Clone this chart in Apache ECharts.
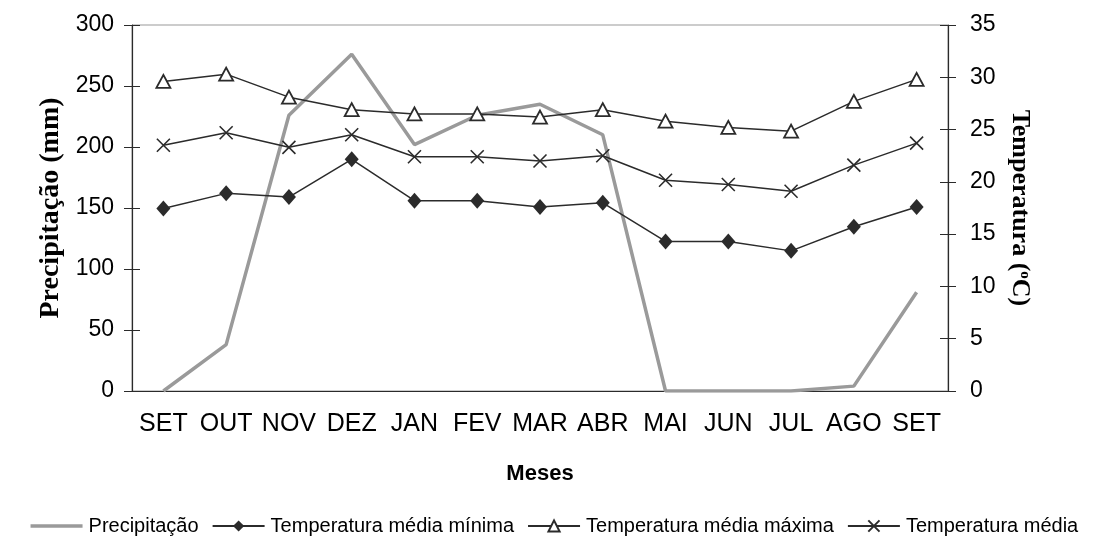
<!DOCTYPE html>
<html>
<head>
<meta charset="utf-8">
<script src="https://cdn.jsdelivr.net/npm/echarts@6/dist/echarts.min.js"></script>
<style>
  html, body { margin: 0; padding: 0; background: #fff; }
  #main { width: 1107px; height: 540px; }
</style>
</head>
<body>
<div id="main"></div>
<script>
var months = ["SET", "OUT", "NOV", "DEZ", "JAN", "FEV", "MAR", "ABR", "MAI", "JUN", "JUL", "AGO", "SET"];
var precipitacao = [0, 38, 226, 276, 202, 226, 235, 210, 0, 0, 0, 4, 81];
var tempMinima = [17.45, 18.9, 18.55, 22.15, 18.2, 18.2, 17.6, 18.0, 14.3, 14.3, 13.4, 15.7, 17.6];
var tempMaxima = [29.6, 30.3, 28.1, 26.9, 26.5, 26.5, 26.2, 26.9, 25.8, 25.2, 24.85, 27.7, 29.8];
var tempMedia = [23.5, 24.7, 23.3, 24.5, 22.4, 22.4, 22.0, 22.5, 20.15, 19.75, 19.1, 21.6, 23.7];

var dark = "#2b2b2b";
var gray = "#9a9a9a";
var sans = "Liberation Sans, Arial, sans-serif";
var serif = "Liberation Serif, Times New Roman, serif";
var crossPath = "path://M0,0L10,10M10,0L0,10";

var chart = echarts.init(document.getElementById("main"));

function innerAxis(pos, max, interval) {
  // second copy of an axis, only to draw the inner half of crossing ticks
  return {
    type: "value", position: pos, min: 0, max: max, interval: interval,
    axisLine: { show: false },
    axisTick: { show: true, inside: true, length: 8, lineStyle: { color: dark } },
    axisLabel: { show: false },
    splitLine: { show: false }
  };
}

chart.setOption({
  animation: false,
  grid: { left: 132, right: 159, top: 25, bottom: 149, show: true, borderColor: "#999", borderWidth: 1 },
  legend: {
    bottom: -1, left: "center", itemWidth: 52, itemHeight: 14, itemGap: 13,
    textStyle: { fontFamily: sans, fontSize: 20, color: "#000", padding: [0, 0, 0, 1] },
    data: [
      { name: "Precipitação", itemStyle: { opacity: 0 }, lineStyle: { color: gray, width: 3.5 } },
      "Temperatura média mínima", "Temperatura média máxima", "Temperatura média"
    ]
  },
  xAxis: {
    type: "category", data: months, boundaryGap: true,
    name: "Meses", nameLocation: "middle", nameGap: 72,
    nameTextStyle: { fontFamily: sans, fontSize: 22, fontWeight: "bold", color: "#000" },
    axisLine: { lineStyle: { color: dark, width: 1.2 } },
    axisTick: { inside: true, length: 8, lineStyle: { color: dark } },
    axisLabel: { fontFamily: sans, fontSize: 25, color: "#000", margin: 21, interval: 0 }
  },
  yAxis: [
    {
      type: "value", position: "left", min: 0, max: 300, interval: 50,
      name: "Precipitação (mm)", nameLocation: "middle", nameGap: 57,
      nameTextStyle: { fontFamily: serif, fontSize: 28, fontWeight: "bold", color: "#000" },
      axisLine: { show: true, lineStyle: { color: dark, width: 1.2 } },
      axisTick: { show: true, length: 8, lineStyle: { color: dark } },
      axisLabel: { fontFamily: sans, fontSize: 23, color: "#000", margin: 18 },
      splitLine: { show: false }
    },
    {
      type: "value", position: "right", min: 0, max: 35, interval: 5,
      name: "Temperatura ({sup|o}C)", nameLocation: "middle", nameGap: 56, nameRotate: -90,
      nameTextStyle: {
        fontFamily: serif, fontSize: 26, fontWeight: "bold", color: "#000",
        rich: { sup: { fontFamily: serif, fontSize: 15, fontWeight: "bold", verticalAlign: "top", padding: [0, 0, 10, 0] } }
      },
      axisLine: { show: true, lineStyle: { color: dark, width: 1.2 } },
      axisTick: { show: true, length: 8, lineStyle: { color: dark } },
      axisLabel: { fontFamily: sans, fontSize: 23, color: "#000", margin: 22 },
      splitLine: { show: false }
    },
    innerAxis("left", 300, 50),
    innerAxis("right", 35, 5)
  ],
  series: [
    {
      name: "Precipitação", type: "line", yAxisIndex: 0, data: precipitacao,
      symbol: "none", lineStyle: { color: gray, width: 3.5 }, itemStyle: { color: gray }
    },
    {
      name: "Temperatura média mínima", type: "line", yAxisIndex: 1, data: tempMinima,
      symbol: "diamond", symbolSize: [14, 16],
      lineStyle: { color: dark, width: 1.5 }, itemStyle: { color: dark, borderColor: dark, borderWidth: 0 }
    },
    {
      name: "Temperatura média máxima", type: "line", yAxisIndex: 1, data: tempMaxima,
      symbol: "triangle", symbolSize: [14, 13],
      lineStyle: { color: dark, width: 1.5 }, itemStyle: { color: "#fff", borderColor: dark, borderWidth: 1.8 }
    },
    {
      name: "Temperatura média", type: "line", yAxisIndex: 1, data: tempMedia,
      symbol: crossPath, symbolSize: 13,
      lineStyle: { color: dark, width: 1.5 }, itemStyle: { color: dark, borderColor: dark, borderWidth: 1.6 }
    }
  ]
});
</script>
</body>
</html>
